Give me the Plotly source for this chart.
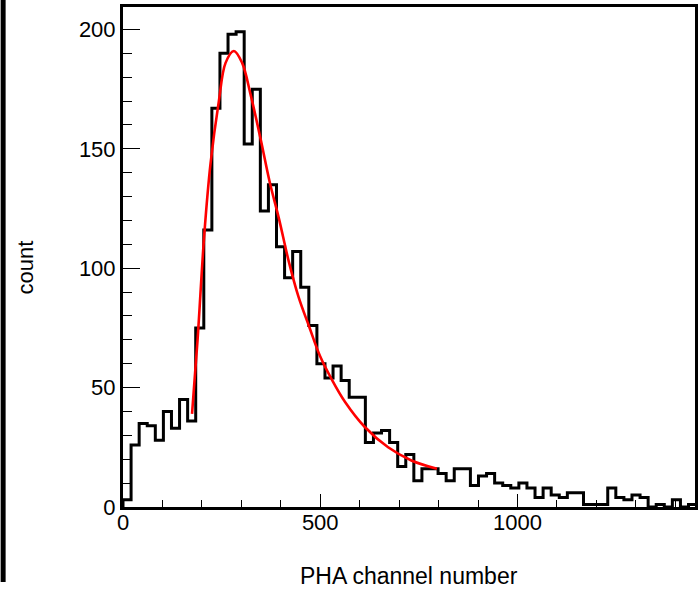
import plotly.graph_objects as go

# PHA spectrum: counts per bin (bin width in channels)
bin_width = 20.48
counts = [
    3, 26, 35, 34, 28, 40, 33, 45, 36, 75,
    116, 167, 190, 198, 199, 152, 175, 124, 135, 109,
    96, 107, 92, 76, 60, 54, 59, 53, 46, 46,
    27, 31, 32, 27, 17, 22, 11, 16, 16, 14,
    11, 16, 16, 9, 13, 14, 10, 9, 8, 10,
    8, 4, 8, 5, 4, 6, 6, 1, 1, 1,
    8, 4, 3, 5, 4, 0, 1, 0, 3, 0,
    1,
]

# fitted peak curve sampled along its length
fit_x = [175, 189, 206, 222, 243, 260, 281, 302, 323, 349, 372, 395,
         420, 445, 472, 500, 529, 563, 613, 672, 731, 796]
fit_y = [39, 70, 114, 144, 170, 186, 191, 186, 173, 154, 136, 121,
         103, 88, 75.5, 63, 53.5, 44, 33.5, 25, 19.5, 16]

x_range = [0, 1450]
y_range = [0, 209.4]
x_ticks = [0, 500, 1000]
y_ticks = [0, 50, 100, 150, 200]

# step outline of the histogram (starts from zero at the left edge)
edges = [i * bin_width for i in range(len(counts) + 1)]
step_x = [0] + edges
step_y = [0] + counts + [counts[-1]]

FONT = "Liberation Sans, Arial, Helvetica, sans-serif"

fig = go.Figure()
fig.add_trace(go.Scatter(
    x=step_x, y=step_y, mode="lines",
    line=dict(color="black", width=3, shape="hv"),
    hoverinfo="skip", showlegend=False,
))
fig.add_trace(go.Scatter(
    x=fit_x, y=fit_y, mode="lines",
    line=dict(color="#ff0000", width=2.6, shape="spline", smoothing=1.0),
    hoverinfo="skip", showlegend=False,
))

fig.update_layout(
    width=699, height=589,
    margin=dict(l=123, r=1, t=7, b=82),
    paper_bgcolor="white", plot_bgcolor="white",
    font=dict(family=FONT, size=22, color="black"),
    showlegend=False,
    xaxis=dict(
        range=x_range, tickvals=x_ticks, ticktext=[str(v) for v in x_ticks],
        ticks="inside", ticklen=13, tickwidth=1.2, tickcolor="black",
        minor=dict(dtick=100, ticks="inside", ticklen=7, tickwidth=1.2,
                   tickcolor="black"),
        showline=True, linewidth=3, linecolor="black", mirror=True,
        showgrid=False, zeroline=False,
        tickfont=dict(family=FONT, size=22, color="black"),
        ticklabelstandoff=-6,
    ),
    yaxis=dict(
        range=y_range, tickvals=y_ticks, ticktext=[str(v) for v in y_ticks],
        ticks="inside", ticklen=17, tickwidth=1.2, tickcolor="black",
        minor=dict(dtick=10, ticks="inside", ticklen=9, tickwidth=1.2,
                   tickcolor="black"),
        showline=True, linewidth=3, linecolor="black", mirror=True,
        showgrid=False, zeroline=False,
        tickfont=dict(family=FONT, size=22, color="black"),
        ticklabelstandoff=0,
    ),
    annotations=[
        dict(text="PHA channel number", xref="paper", yref="paper",
             x=0.5, y=-0.138, xanchor="center", yanchor="middle",
             showarrow=False, font=dict(family=FONT, size=23, color="black")),
        dict(text="count", xref="paper", yref="paper",
             x=-0.1722, y=0.478, xanchor="center", yanchor="middle",
             textangle=-90, showarrow=False,
             font=dict(family=FONT, size=22, color="black")),
    ],
    shapes=[
        dict(type="rect", xref="paper", yref="paper",
             x0=-0.2139, x1=-0.2052, y0=-0.15, y1=1.02,
             fillcolor="black", line=dict(width=0), layer="above"),
    ],
)

fig.write_html("out.html")
